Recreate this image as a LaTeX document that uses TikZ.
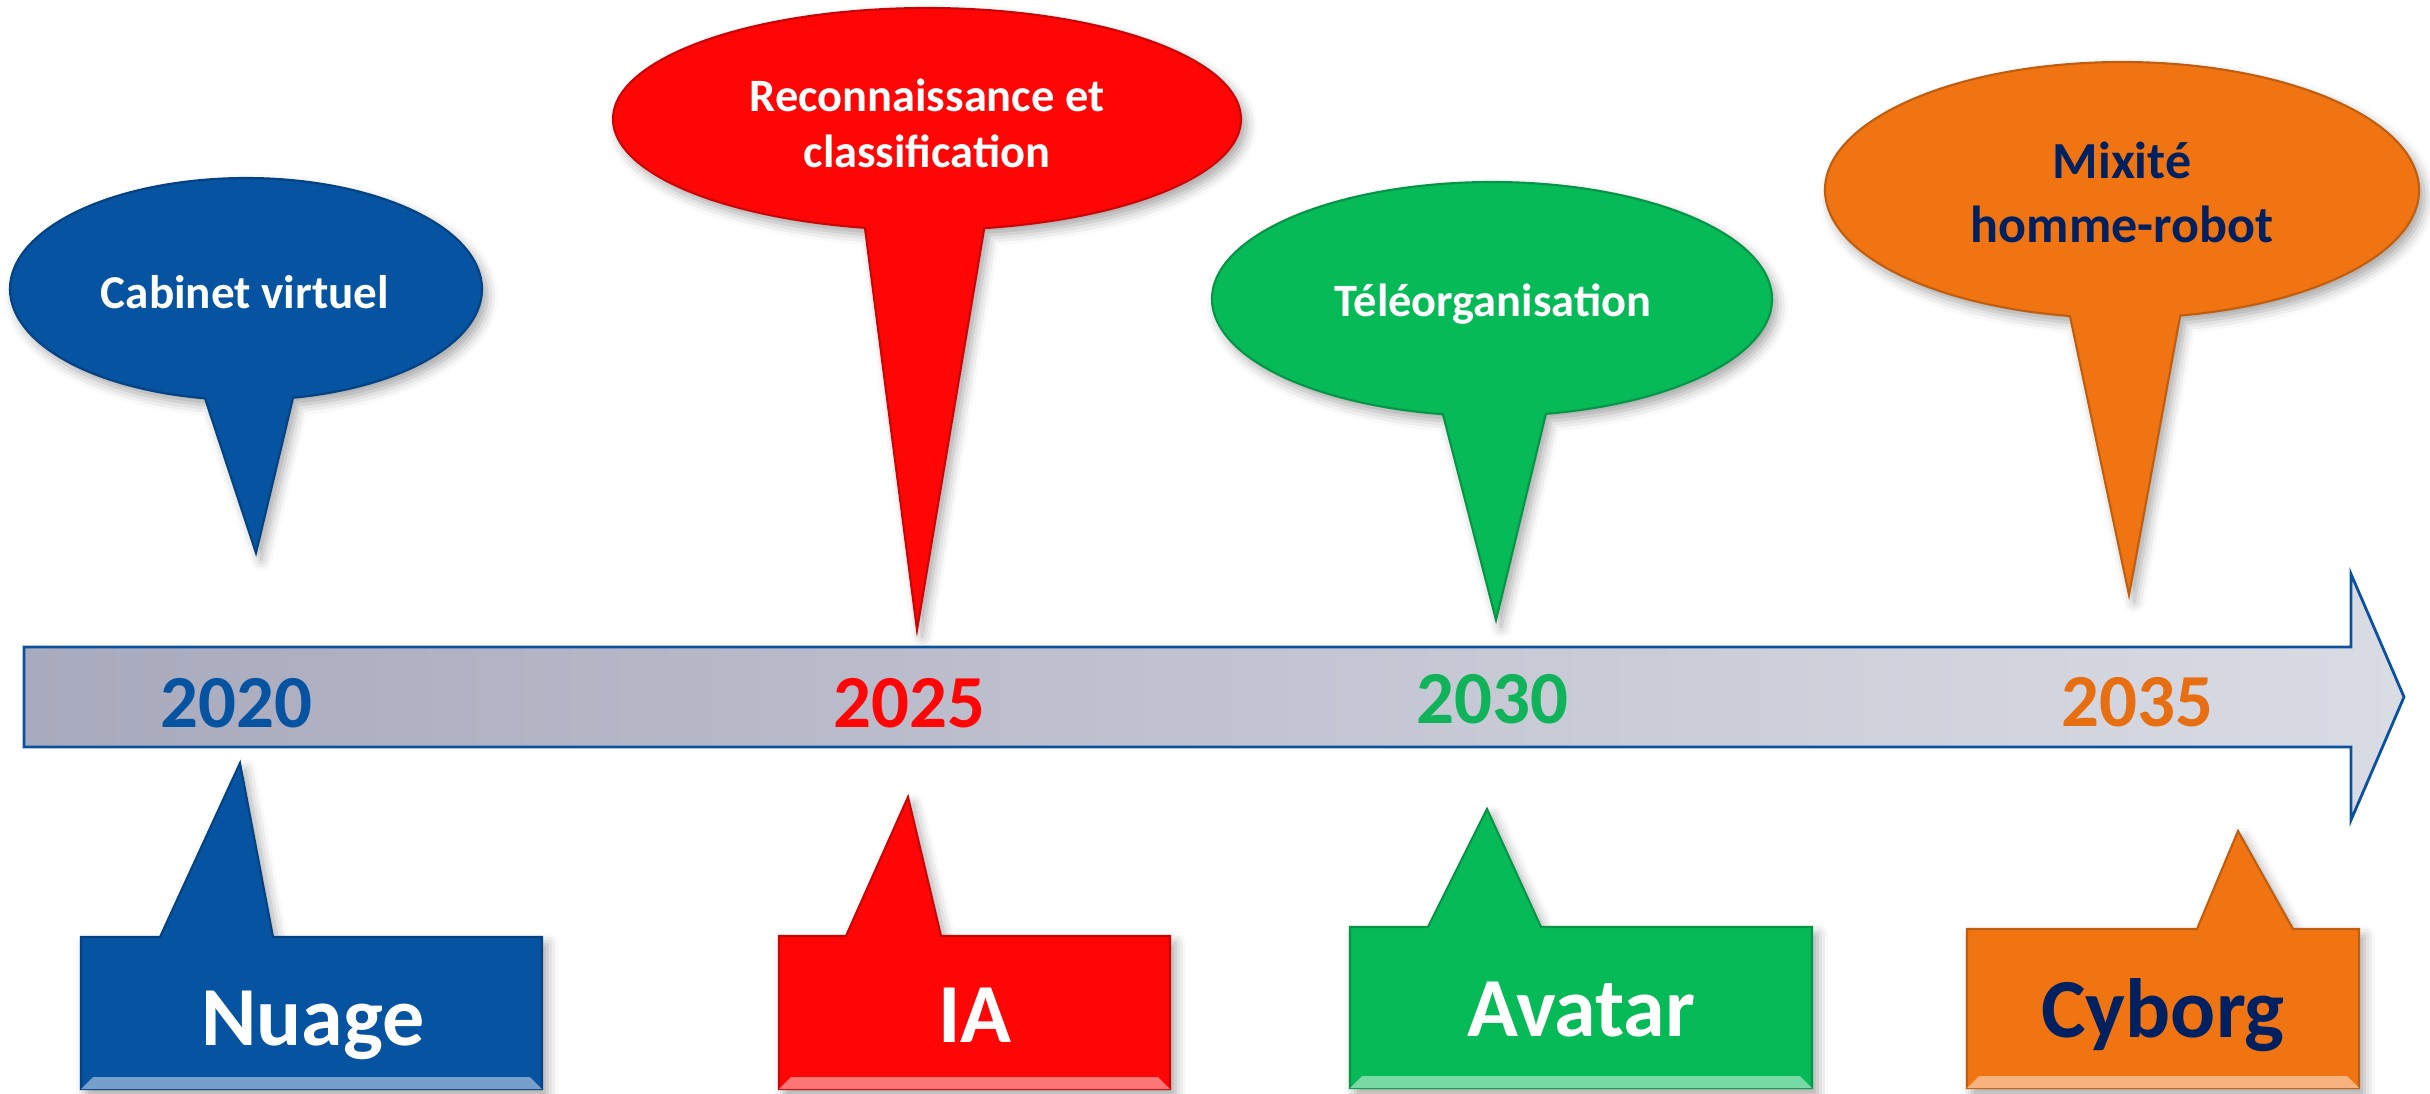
\documentclass[tikz,border=0pt]{standalone}
\usepackage{fontspec}
\setmainfont{Carlito}
\usetikzlibrary{calc,shadows.blur}
\definecolor{cblue}{HTML}{0553A1}
\definecolor{cred}{HTML}{FE0606}
\definecolor{cgreen}{HTML}{07BA58}
\definecolor{corange}{HTML}{F07412}
\definecolor{cnavy}{HTML}{002060}
\definecolor{ygreen}{HTML}{10B25A}
\definecolor{yorange}{HTML}{E86E12}
\definecolor{arrowL}{HTML}{A8AABD}
\definecolor{arrowR}{HTML}{DADCE4}
\definecolor{arrowB}{HTML}{0A52A0}

% #1 cx, #2 cy, #3 a, #4 b, #5 start angle, #6 end angle, #7 apex x, #8 apex y, #9 colour
\newcommand\mybubble[9]{%
  \path[bubble,fill=#9,draw=#9!80!black]
    ($(#1,#2)+(#5:#3 and #4)$) arc[start angle=#5,end angle=#6,x radius=#3,y radius=#4]
    -- (#7,#8) -- cycle;}
% #1 x1, #2 x2, #3 top, #4 base1, #5 base2, #6 apex x, #7 apex y, #8 bottom, #9 colour
\newcommand\mytag[9]{%
  \path[tagbox,fill=#9,draw=#9!80!black]
    (#1,#8) -- (#1,#3) -- (#4,#3) -- (#6,#7) -- (#5,#3) -- (#2,#3) -- (#2,#8) -- cycle;
  \fill[#9!55!white] (#1,#8) -- ({#1+12},{#8-12}) -- ({#2-12},{#8-12}) -- (#2,#8) -- cycle;}

\begin{document}
\begin{tikzpicture}[x=0.01cm,y=-0.01cm,
  bubble/.style={line width=0.6pt,blur shadow={shadow xshift=1.5pt,shadow yshift=-2pt,shadow blur radius=3pt,shadow opacity=35}},
  tagbox/.style={line width=0.6pt,blur shadow={shadow xshift=1.5pt,shadow yshift=-2pt,shadow blur radius=3pt,shadow opacity=35}},
  yr/.style={anchor=base,inner sep=0pt,font=\fontsize{21.3pt}{25pt}\selectfont\bfseries},
  lbl/.style={anchor=base,inner sep=0pt,font=\fontsize{23.9pt}{28pt}\selectfont\bfseries},
  ctxt/.style={inner sep=0pt,text=white,font=\fontsize{13.2pt}{15.9pt}\selectfont\bfseries},
]
\useasboundingbox (0,0) rectangle (2430,1093);

% timeline arrow
\path[draw=arrowB,line width=0.8pt,left color=arrowL,right color=arrowR]
  (24,647) -- (2351,647) -- (2351,574) -- (2404,697) -- (2351,820) -- (2351,747) -- (24,747) -- cycle;

\node[yr,text=cblue] (y2020) at (236,727) {2020};
\node[yr,text=cred] (y2025) at (909,727) {2025};
\node[yr,text=ygreen] (y2030) at (1492,723) {2030};
\node[yr,text=yorange] (y2035) at (2137,726) {2035};

% callouts above
\mybubble{246}{289}{236}{111}{78.5}{-260}{256}{553}{cblue}
\mybubble{927}{119}{314}{111}{79.5}{-258.6}{917}{630}{cred}
\mybubble{1492}{299}{280}{117}{78.9}{-259.9}{1496}{620}{cgreen}
\mybubble{2122}{190}{297}{128}{78.7}{-259.9}{2129}{595}{corange}

\node[ctxt,anchor=base,font=\fontsize{13.4pt}{16pt}\selectfont\bfseries] (cab) at (245,308) {Cabinet virtuel};
\node[ctxt,align=center] (rec) at (927,123) {Reconnaissance et\\classification};
\node[ctxt,anchor=base] (tel) at (1493,316) {Téléorganisation};
\node[ctxt,align=center,text=cnavy,font=\fontsize{14.8pt}{18.2pt}\selectfont\bfseries] (mix) at (2122,192) {Mixité\\homme-robot};

% tags below
\mytag{81}{542}{937}{160}{273}{240}{763}{1089}{cblue}
\mytag{779}{1170}{936}{846}{941}{908}{797}{1089}{cred}
\mytag{1350}{1812}{927}{1428}{1541}{1487}{809}{1088}{cgreen}
\mytag{1967}{2359}{929}{2197}{2293}{2238}{831}{1088}{corange}

\node[lbl,text=white] (nuage) at (313,1045) {Nuage};
\node[lbl,text=white] (ia) at (975,1042) {IA};
\node[lbl,text=white] (avatar) at (1581,1036) {Avatar};
\node[lbl,text=cnavy] (cyborg) at (2163,1037) {Cyborg};
\end{tikzpicture}
\end{document}
